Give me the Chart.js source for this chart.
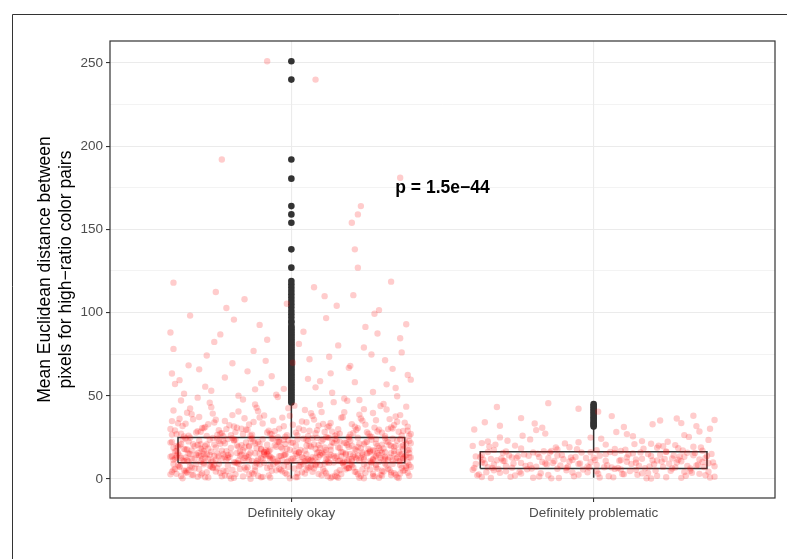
<!DOCTYPE html>
<html>
<head>
<title>Mean Euclidean distance by category</title>
<script src="https://cdn.jsdelivr.net/npm/chart.js@4.4.1/dist/chart.umd.min.js"></script>
<style>
    body { margin: 0; background: #ffffff; }
    canvas { display: block; }
</style>
</head>
<body>
<canvas id="myChart" width="787" height="559"></canvas>
<script>
    var categories = ["Definitely okay", "Definitely problematic"];
    var categoryPos = [1, 2];
    var yTickValues = [0, 25, 50, 75, 100, 125, 150, 175, 200, 225, 250];

    // lower whisker, q1, median, q3, upper whisker
    var okayBox = [0.3, 9.8, 16.0, 25.0, 46.0];
    var problemBox = [0.8, 6.4, 11.2, 16.4, 30.5];

    var okayOutliers = [46, 47, 48, 49, 50, 51, 52, 53, 54, 55, 56, 57, 58, 59, 60, 61, 62, 63, 64, 65,
        66, 67, 68, 69, 70, 71, 72, 73, 74, 75, 76, 77, 78, 79, 80, 81, 82, 83, 84, 85, 86, 87, 88, 89, 90,
        91, 92, 94, 95, 97, 99, 101, 103, 105, 107, 109, 111, 113, 115, 117, 119,
        127, 138, 154, 159, 164, 180.5, 192, 240, 251];
    var problemOutliers = [31.5, 32.4, 33.2, 34, 35, 36, 37, 38, 39, 40, 41, 42, 43, 44, 45];

    // jittered observations: [offset from category, value]
    var okayPoints = [
        [-0.38,3.1],[-0.12,7.4],[0.27,1.8],[0.05,5.6],[-0.29,8.9],[0.33,2.4],[-0.07,0.9],[0.19,6.7],[-0.35,4.8],[0.11,9.3],
        [-0.22,2.2],[0.38,7.9],[-0.02,3.6],[0.24,0.5],[-0.17,6.1],[0.08,8.2],[-0.31,1.3],[0.30,5.0],[-0.09,9.7],[0.15,3.9],
        [-0.26,7.0],[0.35,1.1],[0.01,6.4],[-0.39,9.0],[0.21,4.4],[-0.14,2.7],[0.28,8.6],[-0.05,5.2],[0.12,1.6],[-0.33,6.9],
        [0.36,3.3],[-0.19,0.7],[0.03,8.0],[0.26,5.8],[-0.28,4.1],[0.17,9.5],[-0.11,2.0],[0.32,6.2],[-0.37,7.7],[0.09,3.0],
        [-0.24,9.2],[0.22,2.9],[-0.03,4.6],[0.39,8.4],[-0.16,1.5],[0.06,7.1],[-0.34,5.4],[0.29,0.8],[-0.08,6.6],[0.14,9.9],
        [-0.30,2.5],[0.37,4.9],[-0.21,8.1],[0.02,1.2],[0.25,7.5],[-0.13,3.7],[0.18,5.9],[-0.36,0.4],[0.31,9.4],[-0.04,6.0],
        [0.10,2.3],[-0.27,7.8],[0.34,3.5],[-0.18,9.6],[0.07,4.3],[-0.32,6.3],[0.23,1.9],[-0.06,8.7],[0.16,5.3],[-0.40,2.8],
        [0.38,6.8],[-0.10,1.0],[0.20,8.3],[-0.25,4.5],[0.04,9.1],[-0.37,7.2],[0.27,3.2],[-0.15,5.7],[0.13,0.6],[-0.29,9.8],
        [0.33,4.0],[-0.01,7.3],[-0.23,1.7],[0.19,6.5],[-0.35,3.8],[0.08,8.8],[0.30,2.1],[-0.12,5.1],[0.36,8.5],[-0.20,0.3],
        [0.11,4.7],[-0.33,2.6],[0.24,9.0],[-0.07,7.6],[0.15,1.4],[-0.39,5.5],[0.02,3.4],[0.28,7.0],[-0.26,6.7],[0.39,2.0],
        [-0.395,4.4],[0.315,8.1],[-0.185,2.9],[0.055,6.8],[-0.275,0.9],[0.245,3.7],[-0.045,9.4],[0.375,5.3],[-0.335,7.6],[0.135,1.4],
        [-0.225,5.0],[0.085,9.9],[-0.125,3.1],[0.285,6.2],[-0.365,1.8],[0.195,8.7],[-0.005,0.5],[0.345,2.6],[-0.255,8.4],[0.035,4.1],
        [-0.155,6.9],[0.225,0.8],[-0.315,9.0],[0.105,5.9],[-0.075,2.2],[0.395,7.3],[-0.215,4.7],[0.165,3.0],[-0.385,6.1],[0.265,9.6],
        [-0.025,7.9],[0.145,2.0],[-0.295,3.4],[0.325,5.6],[-0.105,8.8],[0.015,1.1],[-0.245,6.5],[0.205,7.0],[-0.355,5.2],[0.355,0.6],
        [-0.065,4.9],[0.095,8.5],[-0.175,9.2],[0.275,1.6],[-0.325,2.4],[0.045,3.3],[-0.135,0.2],[0.185,6.6],[-0.265,7.4],[0.385,3.8],
        [-0.035,5.5],[0.125,9.7],[-0.205,1.9],[0.305,4.5],[-0.375,8.3],[0.065,7.7],[-0.095,1.3],[0.235,5.7],[-0.305,6.0],[0.155,0.7],
        [-0.145,7.1],[0.335,9.1],[-0.015,2.8],[0.215,4.2],[-0.235,3.6],[0.075,6.4],[-0.345,4.0],[0.295,2.5],[-0.115,9.5],[0.175,8.0],
        [-0.195,5.4],[0.025,7.5],[0.365,6.7],[-0.285,1.0],[0.115,3.5],
        [-0.36,11.2],[0.14,13.8],[-0.08,15.1],[0.29,10.4],[-0.21,12.6],[0.05,14.9],[0.37,11.9],[-0.31,15.7],[0.20,12.1],[-0.13,10.8],
        [0.09,13.3],[-0.27,14.4],[0.33,15.5],[-0.03,11.5],[0.24,13.0],[-0.38,12.9],[0.12,10.2],[-0.17,14.0],[0.31,12.4],[-0.09,15.9],
        [0.01,11.0],[-0.24,13.6],[0.36,14.7],[-0.34,10.6],[0.18,15.3],[-0.06,12.2],[0.27,11.4],[-0.15,13.9],[0.07,10.9],[-0.29,15.0],
        [0.39,13.1],[-0.11,11.7],[0.22,14.2],[-0.40,13.4],[0.04,12.7],[-0.19,10.1],[0.30,15.8],[-0.02,14.5],[0.16,11.1],[-0.33,12.0],
        [0.26,10.7],[-0.07,13.5],[0.10,15.6],[-0.25,11.8],[0.35,12.8],[-0.14,14.8],[0.03,10.3],[-0.37,14.1],[0.21,13.2],[-0.10,12.5],
        [0.32,11.6],[-0.20,15.2],[0.13,14.6],[-0.30,10.5],[0.06,11.3],[0.38,14.3],[-0.04,13.7],[0.25,15.4],[-0.23,12.3],[0.17,10.0],
        [-0.35,13.0],[0.08,12.9],[-0.16,11.0],[0.28,13.9],[-0.01,10.8],[0.34,15.0],[-0.28,14.9],[0.19,11.9],[-0.12,15.5],[0.02,14.0],
        [-0.39,11.4],[0.23,12.6],[-0.05,10.2],[0.11,15.9],[-0.22,13.3],[0.36,10.9],[-0.32,12.4],[0.15,13.6],[0.29,14.4],[-0.18,15.7],
        [0.00,12.0],[-0.26,10.4],[0.37,12.7],[-0.09,14.7],[0.20,10.6],[-0.34,15.3],[0.07,13.1],[-0.14,11.5],[0.31,13.4],[-0.02,15.1],
        [0.24,11.7],[-0.38,14.2],[0.12,12.2],[-0.21,14.5],[0.39,15.6],[-0.07,11.8],[0.18,14.8],[-0.30,13.8],[0.05,11.2],[0.27,12.1],
        [-0.385,12.3],[0.205,14.1],[-0.115,10.7],[0.325,13.0],[-0.245,15.4],[0.065,11.6],[-0.035,13.9],[0.385,10.1],[-0.315,14.6],[0.145,12.8],
        [-0.175,11.2],[0.255,15.8],[-0.065,12.5],[0.095,14.4],[-0.355,10.9],[0.305,11.7],[-0.205,13.3],[0.015,15.2],[0.175,10.4],[-0.275,12.0],
        [0.365,14.8],[-0.135,15.9],[0.045,10.6],[-0.395,13.7],[0.225,11.1],[-0.085,14.2],[0.125,13.6],[-0.295,11.9],[0.345,12.2],[-0.015,10.3],
        [-0.225,14.9],[0.275,13.2],[-0.155,12.7],[0.085,15.6],[-0.335,15.0],[0.185,11.4],[-0.045,11.0],[0.395,12.9],[-0.265,10.5],[0.035,13.4],
        [0.235,14.7],[-0.105,15.3],[0.155,10.8],[-0.365,12.6],[0.285,15.5],[-0.185,10.0],[0.005,12.4],[-0.255,13.8],[0.335,11.3],[-0.075,14.0],
        [0.115,11.8],[-0.305,14.3],[0.195,15.1],[-0.145,13.1],[0.265,10.2],[-0.025,14.5],[0.375,13.5],[-0.215,11.5],[0.055,12.1],[-0.375,15.7],
        [0.165,13.7],[-0.095,12.0],[0.295,12.5],[-0.345,11.3],[0.025,15.8],[-0.165,14.6],[0.215,12.3],[-0.285,13.0],[0.355,10.7],[0.105,14.9],
        [-0.33,17.2],[0.18,21.6],[-0.06,24.1],[0.29,18.7],[-0.24,22.9],[0.09,16.4],[0.37,20.3],[-0.14,19.5],[0.02,23.7],[-0.38,16.9],
        [0.22,24.8],[-0.10,18.0],[0.32,22.2],[-0.28,20.8],[0.13,17.5],[-0.02,21.1],[0.26,16.2],[-0.19,23.4],[0.06,19.9],[-0.35,24.5],
        [0.39,17.8],[-0.08,20.6],[0.16,22.5],[-0.30,18.4],[0.04,24.3],[-0.17,16.6],[0.34,19.1],[-0.04,22.8],[0.20,20.0],[-0.40,21.9],
        [0.11,18.9],[-0.23,17.0],[0.28,23.9],[-0.12,21.4],[0.01,16.8],[0.36,24.0],[-0.32,19.7],[0.15,23.1],[-0.07,17.6],[0.24,20.9],
        [-0.26,24.7],[0.08,18.2],[-0.15,22.0],[0.31,16.1],[-0.37,20.4],[0.19,19.3],[-0.01,23.3],[0.27,17.3],[-0.20,18.6],[0.12,24.9],
        [-0.34,22.6],[0.38,21.2],[-0.09,16.3],[0.05,20.1],[-0.27,23.6],[0.21,17.9],[-0.13,24.4],[0.33,19.8],[-0.03,18.3],[0.14,21.7],
        [-0.39,18.8],[0.25,22.4],[-0.18,20.2],[0.07,24.6],[-0.29,16.7],[0.35,23.0],[-0.05,19.4],[0.17,16.0],[-0.22,21.5],[0.30,20.7],
        [-0.11,22.3],[0.03,17.4],[-0.36,23.8],[0.23,18.5],[-0.16,17.1],[0.10,22.7],[0.37,18.1],[-0.25,19.0],[0.00,21.8],[-0.31,20.5],
        [0.19,24.2],[-0.08,16.5],[0.28,21.3],[-0.21,24.0],[0.13,19.6],[-0.35,17.7],[0.05,23.5],[0.34,16.9],[-0.14,20.0],[0.22,19.2],
        [-0.04,22.1],[-0.30,21.0],[0.16,18.6],[0.39,22.9],[-0.19,23.2],[0.09,20.4],[-0.38,19.9],[0.26,17.0],[-0.10,17.8],[0.31,24.5],
        [-0.375,19.3],[0.215,17.1],[-0.125,22.6],[0.335,24.2],[-0.265,16.4],[0.075,20.8],[-0.015,18.2],[0.395,21.5],[-0.305,23.1],[0.155,19.0],
        [-0.195,24.6],[0.275,16.9],[-0.055,20.3],[0.105,23.8],[-0.345,17.7],[0.245,22.0],[-0.155,18.9],[0.025,16.1],[0.365,19.6],[-0.235,21.2],
        [0.125,24.9],[-0.085,17.3],[0.305,18.4],[-0.395,22.3],[0.185,20.6],[-0.025,23.4],[-0.215,16.7],[0.055,22.9],[0.345,20.0],[-0.285,19.8],
        [0.165,16.3],[-0.135,24.0],[0.265,23.6],[-0.355,18.1],[0.005,21.9],[-0.175,19.5],[0.385,17.5],[-0.065,24.4],[0.095,18.7],[-0.325,20.9],
        [0.225,21.4],[-0.245,24.3],[0.045,17.0],[-0.105,21.0],[0.315,22.7],[-0.385,16.6],[0.135,22.2],[-0.035,19.2],[0.255,18.0],[-0.295,17.8],
        [0.085,24.7],[-0.165,20.4],[0.355,16.2],[-0.225,22.8],[0.195,23.0],[-0.075,16.8],[0.015,20.2],[-0.335,24.8],[0.285,19.9],[-0.115,18.5],
        [0.175,21.8],[-0.255,20.7],[0.375,23.3],[-0.045,22.4],[0.115,17.4],[-0.365,21.1],[0.235,16.0],[-0.185,23.7],[0.065,19.4],[-0.005,17.6],
        [0.325,20.5],[-0.275,18.3],[0.145,24.1],[-0.095,23.9],[0.295,17.2],
        [-0.34,26.1],[0.21,31.4],[-0.09,38.2],[0.30,27.8],[-0.25,35.6],[0.06,29.0],[0.38,43.5],[-0.16,26.9],[0.13,33.7],[-0.39,41.2],
        [0.26,25.6],[-0.04,30.3],[0.17,37.1],[-0.30,28.4],[0.34,32.5],[-0.12,44.8],[0.02,26.4],[-0.22,34.9],[0.29,29.7],[-0.36,31.9],
        [0.10,40.3],[-0.07,27.2],[0.23,36.4],[-0.28,25.9],[0.37,28.9],[-0.18,30.8],[0.05,34.1],[-0.33,38.9],[0.15,26.7],[-0.01,42.6],
        [0.32,30.0],[-0.24,29.3],[0.08,27.5],[-0.14,32.8],[0.27,39.7],[-0.38,27.0],[0.19,25.3],[-0.06,35.0],[0.35,34.4],[-0.27,45.9],
        [0.12,31.1],[-0.20,26.3],[0.25,28.1],[-0.03,36.9],[-0.35,33.2],[0.39,26.0],[0.04,29.5],[-0.11,40.8],[0.20,33.0],[-0.31,28.7],
        [0.14,46.2],[-0.19,31.6],[0.31,25.8],[-0.08,28.0],[0.07,37.8],[-0.29,30.5],[0.24,42.0],[-0.37,36.2],[0.16,27.3],[-0.02,25.4],
        [0.36,38.4],[-0.23,27.6],[0.09,32.1],[-0.15,29.8],[0.28,35.3],[-0.40,30.1],[0.01,44.1],[0.33,31.0],[-0.13,26.6],[0.22,30.6],
        [-0.26,39.3],[0.11,28.3],
        [-0.385,29.2],[0.195,26.8],[-0.095,33.4],[0.345,37.6],[-0.235,27.4],[0.045,41.5],[-0.165,30.2],[0.285,28.6],[-0.325,35.9],[0.115,25.2],
        [-0.025,31.7],[0.375,33.9],[-0.265,43.2],[0.155,29.9],[-0.135,26.0],[0.225,38.7],[-0.355,25.6],[0.075,35.7],[-0.055,28.8],[0.305,45.1],
        [-0.205,32.3],[0.395,27.1],[-0.305,37.3],[0.125,31.9],[-0.115,42.9],[0.265,25.5],[-0.375,33.5],[0.015,27.9],[0.175,40.1],[-0.185,28.2],
        [0.335,30.4],[-0.245,26.5],[0.095,44.6],[-0.075,29.1],[0.245,32.7],[-0.345,39.8],[0.035,34.6],[-0.155,36.5],[0.365,26.2],[-0.285,31.3],
        [0.135,28.5],[-0.005,38.0],[0.205,27.7],[-0.395,26.7],[0.315,41.8],[-0.215,30.0],[0.055,25.8],[-0.125,34.3],[0.275,30.9],[-0.315,28.0],
        [0.165,36.8],[-0.045,25.1],[0.385,31.5],[-0.255,34.0],[0.085,29.4],[-0.175,40.6],[0.235,35.1],[-0.365,27.3],[0.005,32.6],[0.355,28.4],
        [-0.105,37.0],[0.145,26.1],[-0.295,30.7],[0.295,43.9],[-0.065,27.0],[0.065,39.5],[-0.225,25.7],[0.215,29.6],[-0.335,42.4],[0.105,33.1],
        [-0.145,29.5],[0.325,36.0],[-0.015,26.4],[0.185,47.0],[-0.275,32.9],[0.255,27.2],[-0.395,34.8],[0.025,30.4],[-0.195,38.4],[0.385,29.0],
        [-0.31,48.9],[0.27,52.3],[-0.10,57.6],[0.35,49.7],[-0.22,61.0],[0.08,55.1],[-0.37,59.4],[0.19,66.8],[-0.05,50.6],[0.31,71.4],
        [-0.28,74.2],[0.13,63.5],[-0.16,47.8],[0.24,79.0],[-0.39,78.2],[0.04,88.5],[0.38,93.0],[-0.19,95.8],[0.15,104.1],[-0.34,68.3],
        [0.29,101.5],[-0.08,83.7],[0.21,58.2],[-0.25,112.4],[0.33,118.6],[-0.12,53.9],[0.06,72.0],[-0.40,88.0],[0.36,84.6],[0.11,109.9],
        [-0.355,51.2],[0.225,47.5],[-0.145,64.7],[0.315,56.9],[-0.265,53.0],[0.055,60.2],[-0.045,49.3],[0.385,62.5],[-0.195,69.6],[0.135,51.8],
        [-0.385,57.1],[0.265,74.8],[-0.085,71.0],[0.175,48.4],[-0.305,65.9],[0.025,81.2],[0.345,54.7],[-0.235,86.9],[0.095,58.8],[-0.125,77.0],
        [0.245,91.4],[-0.335,98.2],[0.195,68.0],[-0.015,105.3],[0.365,76.1],[-0.175,50.1],[0.115,96.7],[-0.395,63.4],[0.285,87.4],[-0.065,61.8],
        [0.155,80.3],[-0.285,55.5],[0.075,115.2],[-0.215,102.8],[0.335,66.2],[-0.105,92.6],[0.205,110.5],[-0.365,47.2],[0.005,69.9],[0.395,59.7],
        [-0.255,82.4],[0.125,73.5],[-0.155,108.0],[0.275,99.3],[-0.025,54.2],
        [-0.08,251],[0.08,240],[-0.23,192],[0.23,164],[0.22,159],[0.20,154],[0.21,138],[0.22,127],[-0.39,118],[0.36,181]
    ];
    var problemPoints = [
        [-0.37,1.2],[0.12,4.8],[-0.05,2.6],[0.29,0.7],[-0.22,5.9],[0.35,3.1],[-0.14,0.4],[0.07,6.1],[-0.31,3.7],[0.21,1.9],
        [-0.09,5.2],[0.38,4.4],[-0.26,2.1],[0.02,0.9],[0.16,3.4],[-0.40,5.6],[0.26,6.3],[-0.18,1.5],[0.10,2.9],[-0.34,0.6],
        [0.32,5.0],[-0.02,4.0],[0.19,0.3],[-0.29,4.6],[0.05,1.7],[-0.12,6.2],[0.37,2.3],[-0.24,3.3],[0.14,5.5],[-0.38,2.8],
        [0.24,1.1],[-0.07,3.9],[0.30,4.2],[-0.20,0.8],[0.09,5.8],[-0.33,5.3],[0.40,1.4],[-0.15,2.4],[0.01,4.7],[0.18,3.6],
        [-0.385,2.2],[0.205,5.1],[-0.115,0.6],[0.325,3.8],[-0.245,4.3],[0.065,1.0],[-0.035,5.7],[0.385,0.9],[-0.315,6.0],[0.145,2.5],
        [-0.175,3.5],[0.255,4.9],[-0.065,1.6],[0.095,3.0],[-0.355,4.1],[0.305,2.0],[-0.205,6.3],[0.015,3.2],[0.175,0.5],[-0.275,1.3],
        [-0.35,7.1],[0.14,9.8],[-0.08,10.6],[0.27,6.9],[-0.21,8.4],[0.36,10.2],[-0.02,7.6],[0.20,8.9],[-0.30,11.0],[0.08,6.6],
        [-0.16,9.3],[0.31,7.9],[-0.39,9.0],[0.04,10.9],[0.23,7.3],[-0.11,8.1],[0.38,9.5],[-0.27,6.8],[0.11,10.4],[-0.05,9.1],
        [0.17,6.5],[-0.33,8.7],[0.29,10.7],[-0.19,7.4],[0.01,8.5],[-0.37,10.0],[0.25,9.2],[-0.13,10.8],[0.34,8.2],[-0.24,9.7],
        [0.06,7.0],[-0.01,10.1],[0.40,7.7],[-0.29,7.8],[0.15,8.0],[-0.09,6.7],[0.21,11.1],[-0.36,9.4],[0.32,6.4],[-0.17,10.3],
        [0.365,7.2],[-0.135,9.6],[0.045,8.3],[-0.395,6.6],[0.225,10.5],[-0.085,7.4],[0.125,9.0],[-0.295,10.8],[0.345,8.6],[-0.015,6.9],
        [-0.225,7.9],[0.275,9.9],[-0.155,8.8],[0.085,11.0],[-0.335,6.7],[0.185,7.5],[-0.045,9.4],[0.395,10.0],[-0.265,9.3],[0.035,7.1],
        [-0.34,12.1],[0.13,15.4],[-0.06,13.2],[0.28,11.6],[-0.23,14.8],[0.37,12.7],[-0.01,16.1],[0.19,13.9],[-0.30,15.7],[0.09,11.4],
        [-0.15,12.5],[0.33,14.3],[-0.39,13.6],[0.04,14.9],[0.24,16.3],[-0.10,11.9],[0.39,15.1],[-0.27,12.9],[0.11,13.0],[-0.04,15.9],
        [0.16,12.2],[-0.32,11.3],[0.30,13.4],[-0.20,16.0],[0.00,12.8],[-0.37,14.5],[0.22,14.6],[-0.12,14.1],[0.35,11.8],[-0.25,13.7],
        [0.07,15.6],[-0.07,11.5],[0.26,12.4],[-0.35,16.2],[0.18,15.0],[-0.18,13.3],[0.02,14.0],[0.31,15.8],[-0.28,14.2],[0.14,11.7],
        [0.235,12.0],[-0.105,14.4],[0.155,16.0],[-0.365,11.6],[0.285,13.5],[-0.185,15.2],[0.005,11.4],[-0.255,12.7],[0.335,15.7],[-0.075,13.0],
        [0.115,14.7],[-0.305,12.3],[0.195,11.2],[-0.145,15.9],[0.265,14.1],[-0.025,12.6],[0.375,13.8],[-0.215,14.0],[0.055,16.2],[-0.375,13.1],
        [-0.33,17.5],[0.16,22.8],[-0.08,19.1],[0.30,26.4],[-0.24,18.3],[0.36,17.0],[-0.01,24.9],[0.21,18.8],[-0.37,21.6],[0.09,16.9],
        [-0.16,27.3],[0.27,20.4],[-0.29,16.6],[0.04,20.7],[0.38,23.5],[-0.12,17.8],[0.13,25.7],[-0.40,19.9],[0.24,16.5],[-0.05,22.1],
        [0.33,19.4],[-0.21,23.8],[0.07,18.0],[-0.31,25.0],[0.19,21.2],[-0.14,16.8],[0.35,28.6],[-0.26,20.1],[0.01,17.3],[0.28,18.5],
        [-0.19,29.4],[0.11,27.0],[-0.35,22.6],[0.23,19.7],
        [0.165,18.2],[-0.095,21.4],[0.295,17.1],[-0.345,19.5],[0.025,24.2],[-0.165,16.7],[0.215,20.1],[-0.285,23.0],[0.355,18.9],[0.105,17.6],
        [-0.235,26.0],[0.245,22.4],[-0.055,17.9],[0.075,28.3],[-0.325,20.7],[0.315,25.3],[-0.125,19.0],[0.135,21.0],
        [-0.24,36.6],[0.22,35.2],[-0.31,32.0],[0.10,31.3],[-0.05,42.2],[0.29,33.6],[-0.17,30.8],[0.06,37.8],[0.34,31.8],[-0.36,34.1],
        [-0.32,43.3],[-0.15,45.6],[0.33,38.0],[0.40,35.5],[0.385,30.2],[-0.195,33.4],[0.015,40.5],[0.195,32.9],[-0.395,29.8],[0.275,36.4]
    ];

    var pLabel = "p = 1.5e\u221244";
    var pLabelAt = [1.5, 175];

    var boxHalf = 0.375;
    var lineColor = "#333333";

    function jitter(pos, pts) {
        return pts.map(function (p) { return { x: pos + p[0], y: p[1] }; });
    }

    function boxDatasets(pos, s, outliers) {
        var sets = [];
        sets.push({
            type: "line", order: 2, borderColor: lineColor, borderWidth: 1.5, pointRadius: 0,
            backgroundColor: "#ffffff", fill: "shape",
            data: [{ x: pos - boxHalf, y: s[1] }, { x: pos + boxHalf, y: s[1] }, { x: pos + boxHalf, y: s[3] },
                   { x: pos - boxHalf, y: s[3] }, { x: pos - boxHalf, y: s[1] }]
        });
        sets.push({
            type: "line", order: 2, borderColor: lineColor, borderWidth: 3, pointRadius: 0, fill: false,
            data: [{ x: pos - boxHalf, y: s[2] }, { x: pos + boxHalf, y: s[2] }]
        });
        sets.push({
            type: "line", order: 2, borderColor: lineColor, borderWidth: 1.5, pointRadius: 0, fill: false,
            data: [{ x: pos, y: s[0] }, { x: pos, y: s[1] }]
        });
        sets.push({
            type: "line", order: 2, borderColor: lineColor, borderWidth: 1.5, pointRadius: 0, fill: false,
            data: [{ x: pos, y: s[3] }, { x: pos, y: s[4] }]
        });
        sets.push({
            type: "scatter", order: 2, pointRadius: 3.3, borderWidth: 0, backgroundColor: lineColor,
            data: outliers.map(function (v) { return { x: pos, y: v }; })
        });
        return sets;
    }

    var datasets = []
        .concat(boxDatasets(categoryPos[0], okayBox, okayOutliers))
        .concat(boxDatasets(categoryPos[1], problemBox, problemOutliers));
    datasets.push({
        type: "scatter", order: 0, pointRadius: 3.2, borderWidth: 0, backgroundColor: "rgba(255,0,0,0.2)",
        data: jitter(categoryPos[0], okayPoints).concat(jitter(categoryPos[1], problemPoints))
    });

    var panelPlugin = {
        id: "panel",
        afterDraw: function (chart) {
            var ctx = chart.ctx, a = chart.chartArea;
            ctx.save();
            ctx.strokeStyle = lineColor;
            ctx.lineWidth = 1.2;
            ctx.strokeRect(a.left, a.top, a.right - a.left, a.bottom - a.top);

            ctx.fillStyle = "#000000";
            ctx.font = "bold 17.5px 'Liberation Sans', Arial, sans-serif";
            ctx.textAlign = "center";
            ctx.textBaseline = "middle";
            ctx.fillText(pLabel, chart.scales.x.getPixelForValue(pLabelAt[0]), chart.scales.y.getPixelForValue(pLabelAt[1]));

            ctx.strokeStyle = "#333333";
            ctx.lineWidth = 1;
            ctx.beginPath();
            ctx.moveTo(12.5, 559);
            ctx.lineTo(12.5, 14.5);
            ctx.lineTo(787, 14.5);
            ctx.stroke();
            ctx.restore();
        }
    };

    var tickFont = { family: "'Liberation Sans', Arial, sans-serif", size: 13.5 };

    new Chart(document.getElementById("myChart").getContext("2d"), {
        type: "scatter",
        data: { datasets: datasets },
        plugins: [panelPlugin],
        options: {
            responsive: false,
            devicePixelRatio: 1,
            animation: false,
            events: [],
            layout: { padding: { top: 41, right: 12, bottom: 0, left: 0 } },
            plugins: { legend: { display: false }, tooltip: { enabled: false } },
            scales: {
                x: {
                    type: "linear", min: 0.4, max: 2.6,
                    afterBuildTicks: function (scale) {
                        scale.ticks = categoryPos.map(function (v) { return { value: v }; });
                    },
                    afterFit: function (scale) { scale.height = 61; },
                    border: { display: false },
                    grid: { color: "#ebebeb", lineWidth: 1.1, tickColor: lineColor, tickLength: 4 },
                    ticks: {
                        autoSkip: false, maxRotation: 0, padding: 3, color: "#4d4d4d", font: tickFont,
                        callback: function (v) { return categories[categoryPos.indexOf(v)]; }
                    }
                },
                y: {
                    type: "linear", min: -11.4, max: 263.2,
                    afterBuildTicks: function (scale) {
                        scale.ticks = yTickValues.map(function (v) { return { value: v }; });
                    },
                    afterFit: function (scale) { scale.width = 110; },
                    border: { display: false },
                    grid: {
                        color: "#ebebeb",
                        lineWidth: function (c) { return c.tick && c.tick.value % 50 === 0 ? 1.1 : 0.6; },
                        tickColor: function (c) { return c.tick && c.tick.value % 50 === 0 ? lineColor : "rgba(0,0,0,0)"; },
                        tickLength: 4
                    },
                    ticks: {
                        autoSkip: false, padding: 3, color: "#4d4d4d", font: tickFont,
                        callback: function (v) { return v % 50 === 0 ? String(v) : ""; }
                    },
                    title: {
                        display: true,
                        text: ["Mean Euclidean distance between", "pixels for high\u2212ratio color pairs"],
                        color: "#000000",
                        font: { family: "'Liberation Sans', Arial, sans-serif", size: 17.5, lineHeight: 1.2 },
                        padding: { top: 35, bottom: 0 }
                    }
                }
            }
        }
    });
</script>
</body>
</html>
